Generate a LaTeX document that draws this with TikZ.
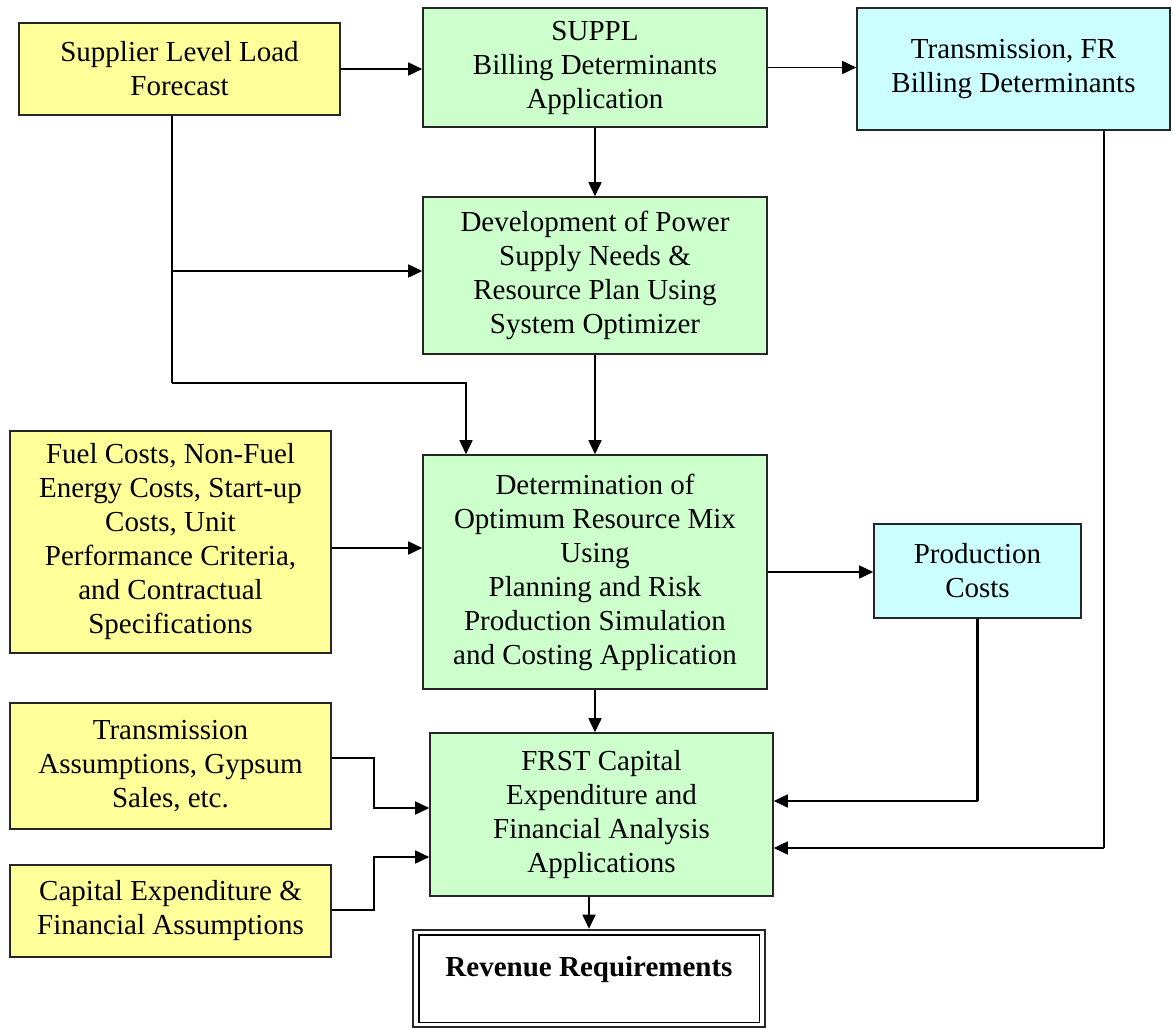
\documentclass[tikz,border=0pt]{standalone}
\usepackage{fontspec}
\setmainfont{Liberation Serif}
\usetikzlibrary{arrows.meta}
\definecolor{ylw}{HTML}{FFFF99}
\definecolor{grn}{HTML}{CCFFCC}
\definecolor{cyn}{HTML}{CCFFFF}
\begin{document}
\begin{tikzpicture}[x=1pt,y=-1pt,
  box/.style={draw=black!85,line width=1.6pt,rectangle,inner sep=0pt,align=center,font=\fontsize{29}{34}\selectfont},
  ybox/.style={box,fill=ylw},
  gbox/.style={box,fill=grn},
  cbox/.style={box,fill=cyn},
  arr/.style={line width=1.7pt,-{Triangle[length=14pt,width=13pt]}},
  ln/.style={line width=1.7pt},
  thk/.style={line width=2.6pt}]
\useasboundingbox (0,0) rectangle (1173,1029);
\fill[white] (0,0) rectangle (1173,1029);

\node[ybox,minimum width=321pt,minimum height=92pt] (slf) at (179.5,69) {Supplier Level Load\\Forecast};
\node[gbox,minimum width=344pt,minimum height=119pt] (suppl) at (595,67.5) {SUPPL\\Billing Determinants\\Application};
\node[cbox,minimum width=313pt,minimum height=122pt] (tfr) at (1013.5,69) {Transmission, FR\\Billing Determinants};
\node[gbox,minimum width=344pt,minimum height=157pt] (dev) at (595,275.5) {Development of Power\\Supply Needs \&\\Resource Plan Using\\System Optimizer};
\node[ybox,minimum width=321pt,minimum height=222pt] (fuel) at (170.5,542) {Fuel Costs, Non-Fuel\\Energy Costs, Start-up\\Costs, Unit\\Performance Criteria,\\and Contractual\\Specifications};
\node[gbox,minimum width=344pt,minimum height=234pt] (det) at (595,572) {Determination of\\Optimum Resource Mix\\Using\\Planning and Risk\\Production Simulation\\and Costing Application};
\node[cbox,minimum width=207pt,minimum height=94pt] (prod) at (977.5,571) {Production\\Costs};
\node[ybox,minimum width=321pt,minimum height=126pt] (ta) at (170.5,766) {Transmission\\Assumptions, Gypsum\\Sales, etc.};
\node[gbox,minimum width=343pt,minimum height=163pt] (frst) at (601.5,814.5) {FRST Capital\\Expenditure and\\Financial Analysis\\Applications};
\node[ybox,minimum width=321pt,minimum height=92pt] (cap) at (170.5,911) {Capital Expenditure \&\\Financial Assumptions};
\node[box,fill=white,line width=2.6pt,minimum width=352pt,minimum height=97pt] (rev) at (589,978.5) {\textbf{Revenue Requirements}\\[-10pt]\mbox{}};
\draw[line width=1.6pt] ([shift={(7pt,-6pt)}]rev.north west) rectangle ([shift={(-7pt,6pt)}]rev.south east);

\coordinate (j1) at (172,383);
\coordinate (j2) at (172,271);
\coordinate (c3) at (1104,848);

\draw[arr] (slf.east) -- (slf.east -| suppl.west);
\draw[arr] (suppl.east) -- (suppl.east -| tfr.west);
\draw[arr] (suppl.south) -- (dev.north);
\draw[ln] (slf.south -| j1) -- (j1);
\draw[arr] (j2) -- (j2 -| dev.west);
\draw[arr] (j1) -| ([xshift=-129pt]det.north);
\draw[arr] (dev.south) -- (det.north);
\draw[arr] ([yshift=-6pt]fuel.east) -- ([yshift=-6pt]fuel.east -| det.west);
\draw[arr] (det.east) -- (det.east -| prod.west);
\draw[arr] (det.south) -- (det.south |- frst.north);
\draw[thk] (prod.south) -- (prod.south |- 0,801);
\draw[arr] (prod.south |- 0,801) -- ([yshift=13.5pt]frst.east);
\draw[thk] (tfr.south -| c3) -- (c3);
\draw[arr] (c3) -- (c3 -| frst.east);
\draw[arr] ([yshift=8pt]ta.east) -- ++(42,0) |- ([yshift=6.5pt]frst.west);
\draw[arr] ([yshift=1pt]cap.east) -- ++(42,0) |- ([yshift=-42.5pt]frst.west);
\draw[arr] (rev.north |- frst.south) -- (rev.north);
\end{tikzpicture}
\end{document}
